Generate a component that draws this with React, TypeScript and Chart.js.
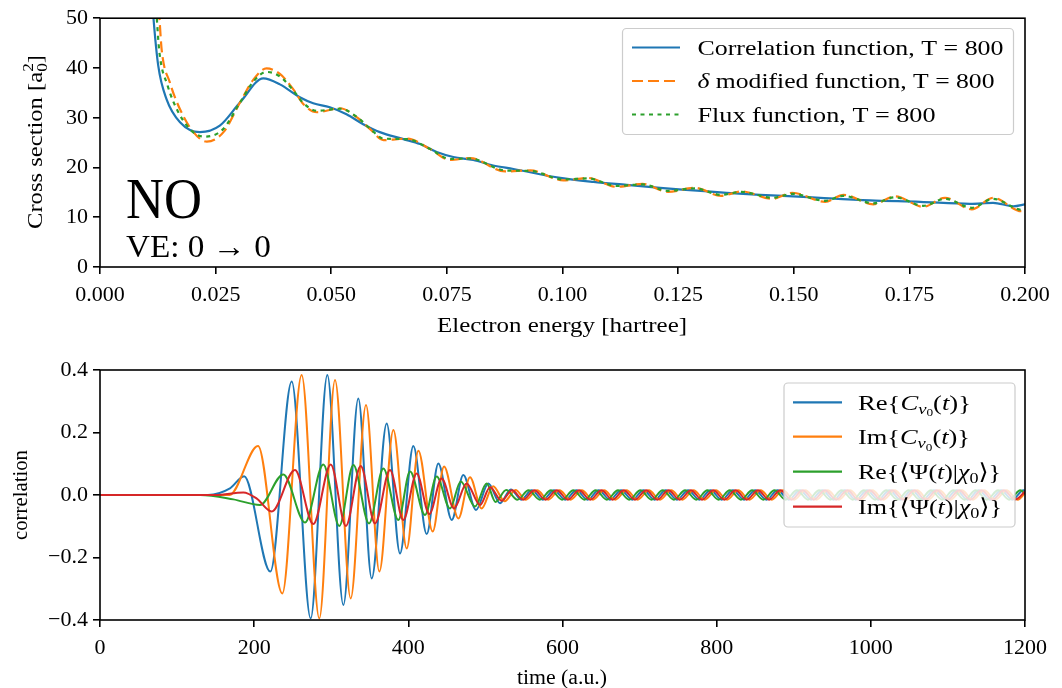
import React, { useEffect, useRef } from 'react';
import { Chart, registerables } from 'chart.js';
Chart.register(...registerables);

const FONT = "'Liberation Serif', 'DejaVu Serif', 'DejaVu Sans', serif";
const W = 1062;
const TOP_H = 345;
const BOT_H = 343;

// ---------- Top panel: cross section vs electron energy ----------
const energyTickStep = 0.025;
const crossTickStep = 10;

const corrE = [0.0112, 0.01153, 0.0126, 0.0144, 0.0173, 0.0216, 0.0259, 0.0303, 0.0353, 0.0389, 0.0432, 0.0461, 0.0497, 0.0533, 0.0569, 0.0605, 0.0656, 0.0692, 0.0728, 0.0764, 0.0807, 0.085, 0.0894, 0.0995, 0.1067, 0.1139, 0.1211, 0.1283, 0.1355, 0.1427, 0.1499, 0.1557, 0.1665, 0.1773, 0.1881, 0.1931, 0.1975, 0.2];
const corrV = [55, 50.4, 40.4, 33.7, 29.1, 27.1, 28.4, 33.1, 37.9, 36.7, 34.1, 32.9, 32.1, 30.7, 28.7, 27.1, 25.7, 24.7, 23.1, 22.1, 21.5, 20.4, 19.7, 17.9, 17.1, 16.5, 15.9, 15.4, 14.9, 14.5, 14.2, 13.9, 13.4, 13.1, 12.7, 12.9, 12.2, 12.6];

const deltaE = [0.0125, 0.01283, 0.01333, 0.0151, 0.0173, 0.0202, 0.0231, 0.0267, 0.0303, 0.0332, 0.036, 0.0389, 0.0418, 0.044, 0.0469, 0.0519, 0.0555, 0.0584, 0.0613, 0.0664, 0.0714, 0.0757, 0.08, 0.0876, 0.093, 0.1002, 0.1055, 0.1117, 0.1173, 0.1228, 0.1286, 0.1343, 0.1387, 0.1454, 0.1497, 0.1568, 0.1607, 0.1672, 0.1719, 0.178, 0.1827, 0.1885, 0.1931, 0.1993, 0.2];
const deltaV = [55, 50.4, 43.7, 37.1, 31.7, 27.1, 25.2, 27.1, 33.1, 37.7, 39.9, 38.8, 35.7, 32.7, 31.1, 31.9, 30.1, 27.7, 25.5, 25.8, 23.7, 21.5, 21.9, 19.2, 19.4, 17.4, 17.9, 16.1, 16.7, 15.1, 15.9, 14.3, 15.2, 13.7, 14.9, 13.1, 14.5, 12.6, 14.2, 12.1, 13.9, 11.6, 13.9, 11.2, 11.3];

const fluxE = [0.0119, 0.01225, 0.0128, 0.0146, 0.017, 0.02, 0.0225, 0.0265, 0.0303, 0.0332, 0.036, 0.0389, 0.0418, 0.044, 0.0469, 0.0519, 0.0555, 0.0584, 0.0613, 0.0664, 0.0714, 0.0757, 0.08, 0.0876, 0.093, 0.1002, 0.1055, 0.1117, 0.1173, 0.1228, 0.1286, 0.1343, 0.1387, 0.1454, 0.1497, 0.1568, 0.1607, 0.1672, 0.1719, 0.178, 0.1827, 0.1885, 0.1931, 0.1993, 0.2];
const fluxV = [55, 50.4, 43.5, 36.5, 31.0, 27.2, 26.2, 27.6, 33.1, 37.3, 39.2, 38.3, 35.5, 32.9, 31.4, 31.8, 30.2, 27.8, 25.8, 25.7, 23.7, 21.7, 21.8, 19.4, 19.3, 17.6, 17.8, 16.3, 16.6, 15.3, 15.8, 14.5, 15.1, 13.9, 14.7, 13.3, 14.3, 12.8, 14.0, 12.3, 13.7, 11.9, 13.7, 11.5, 11.6];

// ---------- Bottom panel: correlation vs time ----------
const reC: [number, number][] = [[0, 0], [140, 0], [168.6, 0.021], [187, 0.06], [221, -0.245], [248.7, 0.363], [273.3, -0.395], [294.9, 0.384], [315.7, -0.352], [335.1, 0.309], [352.5, -0.267], [371.9, 0.229], [389.2, -0.187], [406.5, 0.157], [423.8, -0.125], [438.9, 0.101], [456.3, -0.08], [471.3, 0.064], [487.8, -0.048], [503.8, 0.037], [519, -0.026], [533, 0.018], [546.5, -0.015],
  [560, 0.015], [574.5, -0.015], [589, 0.015], [603.5, -0.015], [618, 0.015], [632.5, -0.015], [647, 0.015], [661.5, -0.015], [676, 0.015], [690.5, -0.015], [705, 0.015], [719.5, -0.015], [734, 0.015], [748.5, -0.015], [763, 0.015], [777.5, -0.015], [792, 0.015], [806.5, -0.015], [821, 0.015], [835.5, -0.015], [850, 0.015], [864.5, -0.015], [879, 0.015], [893.5, -0.015], [908, 0.015], [922.5, -0.015], [937, 0.015], [951.5, -0.015], [966, 0.015], [980.5, -0.015], [995, 0.015], [1009.5, -0.015], [1024, 0.015], [1038.5, -0.015], [1053, 0.015], [1067.5, -0.015], [1082, 0.015], [1096.5, -0.015], [1111, 0.015], [1125.5, -0.015], [1140, 0.015], [1154.5, -0.015], [1169, 0.015], [1183.5, -0.015], [1198, 0.015], [1200, 0.014]];

const imC: [number, number][] = [[0, 0], [168, 0], [205, 0.157], [236.5, -0.315], [261.6, 0.384], [284.5, -0.395], [304.9, 0.368], [325.2, -0.331], [345.1, 0.288], [362.4, -0.245], [380.6, 0.208], [397.9, -0.171], [413, 0.142], [431.6, -0.117], [446.3, 0.091], [464.9, -0.075], [480, 0.057], [495, -0.043], [510, 0.028], [525, -0.02], [539, 0.016], [552.5, -0.015],
  [567, 0.015], [581.5, -0.015], [596, 0.015], [610.5, -0.015], [625, 0.015], [639.5, -0.015], [654, 0.015], [668.5, -0.015], [683, 0.015], [697.5, -0.015], [712, 0.015], [726.5, -0.015], [741, 0.015], [755.5, -0.015], [770, 0.015], [784.5, -0.015], [799, 0.015], [813.5, -0.015], [828, 0.015], [842.5, -0.015], [857, 0.015], [871.5, -0.015], [886, 0.015], [900.5, -0.015], [915, 0.015], [929.5, -0.015], [944, 0.015], [958.5, -0.015], [973, 0.015], [987.5, -0.015], [1002, 0.015], [1016.5, -0.015], [1031, 0.015], [1045.5, -0.015], [1060, 0.015], [1074.5, -0.015], [1089, 0.015], [1103.5, -0.015], [1118, 0.015], [1132.5, -0.015], [1147, 0.015], [1161.5, -0.015], [1176, 0.015], [1190.5, -0.015], [1200, 0.006]];

const rePsi: [number, number][] = [[0, 0], [130, 0], [173, -0.014], [207.6, -0.032], [237.8, 0.066], [266, -0.088], [289.7, 0.098], [310.5, -0.099], [328.7, 0.096], [349, -0.091], [367.6, 0.085], [387, -0.08], [402.2, 0.075], [421.6, -0.064], [436.8, 0.059], [454, -0.043], [468, 0.043], [486.5, -0.037], [501.6, 0.037], [513, -0.022], [527, 0.016], [541.5, -0.015],
  [556, 0.015], [570.5, -0.015], [585, 0.015], [599.5, -0.015], [614, 0.015], [628.5, -0.015], [643, 0.015], [657.5, -0.015], [672, 0.015], [686.5, -0.015], [701, 0.015], [715.5, -0.015], [730, 0.015], [744.5, -0.015], [759, 0.015], [773.5, -0.015], [788, 0.015], [802.5, -0.015], [817, 0.015], [831.5, -0.015], [846, 0.015], [860.5, -0.015], [875, 0.015], [889.5, -0.015], [904, 0.015], [918.5, -0.015], [933, 0.015], [947.5, -0.015], [962, 0.015], [976.5, -0.015], [991, 0.015], [1005.5, -0.015], [1020, 0.015], [1034.5, -0.015], [1049, 0.015], [1063.5, -0.015], [1078, 0.015], [1092.5, -0.015], [1107, 0.015], [1121.5, -0.015], [1136, 0.015], [1150.5, -0.015], [1165, 0.015], [1179.5, -0.015], [1194, 0.015], [1200, 0.004]];

const imPsi: [number, number][] = [[0, 0], [150, 0], [186, 0.008], [203, -0.011], [222.7, -0.053], [253, 0.08], [276.7, -0.093], [299.3, 0.098], [319, -0.099], [338.2, 0.093], [356.8, -0.091], [376.2, 0.08], [393.5, -0.08], [410.8, 0.069], [427.2, -0.061], [443.2, 0.053], [459.3, -0.043], [475.6, 0.037], [493, -0.032], [506, 0.025], [521, -0.018], [534.5, 0.015], [549, -0.015],
  [563.5, 0.015], [578, -0.015], [592.5, 0.015], [607, -0.015], [621.5, 0.015], [636, -0.015], [650.5, 0.015], [665, -0.015], [679.5, 0.015], [694, -0.015], [708.5, 0.015], [723, -0.015], [737.5, 0.015], [752, -0.015], [766.5, 0.015], [781, -0.015], [795.5, 0.015], [810, -0.015], [824.5, 0.015], [839, -0.015], [853.5, 0.015], [868, -0.015], [882.5, 0.015], [897, -0.015], [911.5, 0.015], [926, -0.015], [940.5, 0.015], [955, -0.015], [969.5, 0.015], [984, -0.015], [998.5, 0.015], [1013, -0.015], [1027.5, 0.015], [1042, -0.015], [1056.5, 0.015], [1071, -0.015], [1085.5, 0.015], [1100, -0.015], [1114.5, 0.015], [1129, -0.015], [1143.5, 0.015], [1158, -0.015], [1172.5, 0.015], [1187, -0.015], [1200, 0.011]];

const C_BLUE = '#1f77b4';
const C_ORANGE = '#ff7f0e';
const C_GREEN = '#2ca02c';
const C_RED = '#d62728';

// ---------- rich text helpers ----------
type Seg = { t: string; it?: boolean; sc?: number; dy?: number; sup?: string };

function segFont(s: Seg, size: number) {
  return `${s.it ? 'italic ' : ''}${size * (s.sc ?? 1)}px ${FONT}`;
}
function segWidth(ctx: CanvasRenderingContext2D, s: Seg, size: number) {
  ctx.font = segFont(s, size);
  let w = ctx.measureText(s.t).width;
  if (s.sup) w = Math.max(w, ctx.measureText(s.sup).width);
  return w;
}
function richWidth(ctx: CanvasRenderingContext2D, segs: Seg[], size: number) {
  return segs.reduce((a, s) => a + segWidth(ctx, s, size), 0);
}
// draws text starting at x; if fitW is given the text is stretched horizontally to that width
function drawRich(ctx: CanvasRenderingContext2D, segs: Seg[], x: number, y: number, size: number, fitW?: number) {
  ctx.save();
  ctx.textAlign = 'left';
  ctx.textBaseline = 'alphabetic';
  ctx.fillStyle = '#000';
  const nat = richWidth(ctx, segs, size);
  const sx = fitW ? fitW / nat : 1;
  ctx.translate(x, y);
  ctx.scale(sx, 1);
  let cx = 0;
  for (const s of segs) {
    ctx.font = segFont(s, size);
    ctx.fillText(s.t, cx, (s.dy ?? 0) * size);
    if (s.sup) ctx.fillText(s.sup, cx, -0.42 * size);
    cx += segWidth(ctx, s, size);
  }
  ctx.restore();
}

type LegendRow = { color: string; dash: number[]; segs: Seg[]; cy: number; w: number };
function drawLegend(ctx: CanvasRenderingContext2D, bx: number, by: number, bw: number, bh: number, rows: LegendRow[], hx0: number, hx1: number, tx: number, size: number) {
  ctx.save();
  ctx.beginPath();
  const r = 4;
  ctx.moveTo(bx + r, by);
  ctx.arcTo(bx + bw, by, bx + bw, by + bh, r);
  ctx.arcTo(bx + bw, by + bh, bx, by + bh, r);
  ctx.arcTo(bx, by + bh, bx, by, r);
  ctx.arcTo(bx, by, bx + bw, by, r);
  ctx.closePath();
  ctx.fillStyle = 'rgba(255,255,255,0.8)';
  ctx.fill();
  ctx.strokeStyle = '#cccccc';
  ctx.lineWidth = 1.2;
  ctx.stroke();
  for (const row of rows) {
    ctx.beginPath();
    ctx.setLineDash(row.dash);
    ctx.strokeStyle = row.color;
    ctx.lineWidth = 2.2;
    ctx.moveTo(hx0, row.cy);
    ctx.lineTo(hx1, row.cy);
    ctx.stroke();
    ctx.setLineDash([]);
    drawRich(ctx, row.segs, tx, row.cy + 0.34 * size, size, row.w);
  }
  ctx.restore();
}

function drawFrame(chart: any) {
  const { ctx, chartArea: a } = chart;
  ctx.save();
  ctx.strokeStyle = '#000';
  ctx.lineWidth = 1.6;
  ctx.strokeRect(a.left, a.top, a.right - a.left, a.bottom - a.top);
  ctx.restore();
}

function drawRotated(ctx: CanvasRenderingContext2D, segs: Seg[], cx: number, cy: number, size: number, fitW: number) {
  ctx.save();
  ctx.translate(cx, cy);
  ctx.rotate(-Math.PI / 2);
  drawRich(ctx, segs, -fitW / 2, 0.34 * size, size, fitW);
  ctx.restore();
}
function drawCentered(ctx: CanvasRenderingContext2D, segs: Seg[], cx: number, cy: number, size: number, fitW: number) {
  drawRich(ctx, segs, cx - fitW / 2, cy + 0.34 * size, size, fitW);
}

const TICK_FONT = { family: FONT, size: 22 };
const LABEL_SIZE = 22;
const BOT_LABEL_SIZE = 20;

function axisBase() {
  return {
    type: 'linear' as const,
    grid: { display: true, drawOnChartArea: false, drawTicks: true, tickLength: 7, color: '#000', lineWidth: 1.6 },
    border: { display: false },
  };
}

function topConfig(): any {
  const pts = (xs: number[], ys: number[]) => xs.map((x, i) => ({ x, y: ys[i] }));
  return {
    type: 'line',
    data: {
      datasets: [
        { label: 'Correlation function, T = 800', data: pts(corrE, corrV), borderColor: C_BLUE, borderWidth: 2.2, pointRadius: 0, cubicInterpolationMode: 'monotone', order: 3 },
        { label: 'delta modified function, T = 800', data: pts(deltaE, deltaV), borderColor: C_ORANGE, borderWidth: 2.2, borderDash: [11, 5], pointRadius: 0, cubicInterpolationMode: 'monotone', order: 2 },
        { label: 'Flux function, T = 800', data: pts(fluxE, fluxV), borderColor: C_GREEN, borderWidth: 2.2, borderDash: [4, 4.5], pointRadius: 0, cubicInterpolationMode: 'monotone', order: 1 },
      ],
    },
    options: {
      responsive: false,
      animation: false,
      events: [],
      devicePixelRatio: 1,
      layout: { padding: { left: 0, right: W - 1025, top: 17, bottom: 0 } },
      plugins: { legend: { display: false }, tooltip: { enabled: false } },
      scales: {
        x: {
          ...axisBase(), min: 0, max: 0.2,
          ticks: { stepSize: energyTickStep, color: '#000', font: TICK_FONT, autoSkip: false, maxRotation: 0, padding: 8, callback: (v: any) => Number(v).toFixed(3) },
          afterFit: (s: any) => { s.height = TOP_H - 267; },
        },
        y: {
          ...axisBase(), min: 0, max: 50,
          ticks: { stepSize: crossTickStep, color: '#000', font: TICK_FONT, padding: 5, callback: (v: any) => String(Math.round(Number(v))) },
          afterFit: (s: any) => { s.width = 100; },
        },
      },
    },
    plugins: [{
      id: 'topDecor',
      afterDraw(chart: any) {
        const ctx = chart.ctx as CanvasRenderingContext2D;
        drawFrame(chart);
        drawRich(ctx, [{ t: 'NO' }], 126, 218, 56, 76);
        drawRich(ctx, [{ t: 'VE: 0 \u2192 0' }], 126, 257, 31, 145);
        drawCentered(ctx, [{ t: 'Electron energy [hartree]' }], 562, 325, LABEL_SIZE, 250);
        drawRotated(ctx, [{ t: 'Cross section [a' }, { t: '0', sc: 0.7, dy: 0.2, sup: '2' }, { t: ']' }], 35, 142, LABEL_SIZE, 174);
        drawLegend(ctx, 622.5, 28.5, 391, 106, [
          { color: C_BLUE, dash: [], segs: [{ t: 'Correlation function, T = 800' }], cy: 47.5, w: 306 },
          { color: C_ORANGE, dash: [11, 5], segs: [{ t: '\u03b4', it: true }, { t: ' modified function, T = 800' }], cy: 81, w: 297 },
          { color: C_GREEN, dash: [4, 4.5], segs: [{ t: 'Flux function, T = 800' }], cy: 114.5, w: 238 },
        ], 632, 680, 697.5, LABEL_SIZE);
      },
    }],
  };
}

function botConfig(): any {
  const pts = (arr: [number, number][]) => arr.map(([x, y]) => ({ x, y }));
  const OFF = TOP_H;
  return {
    type: 'line',
    data: {
      datasets: [
        { label: 'Re C', data: pts(reC), borderColor: C_BLUE, borderWidth: 2, pointRadius: 0, cubicInterpolationMode: 'monotone', order: 4 },
        { label: 'Im C', data: pts(imC), borderColor: C_ORANGE, borderWidth: 2, pointRadius: 0, cubicInterpolationMode: 'monotone', order: 3 },
        { label: 'Re Psi', data: pts(rePsi), borderColor: C_GREEN, borderWidth: 2, pointRadius: 0, cubicInterpolationMode: 'monotone', order: 2 },
        { label: 'Im Psi', data: pts(imPsi), borderColor: C_RED, borderWidth: 2, pointRadius: 0, cubicInterpolationMode: 'monotone', order: 1 },
      ],
    },
    options: {
      responsive: false,
      animation: false,
      events: [],
      devicePixelRatio: 1,
      layout: { padding: { left: 0, right: W - 1025, top: 370 - OFF, bottom: 0 } },
      plugins: { legend: { display: false }, tooltip: { enabled: false } },
      scales: {
        x: {
          ...axisBase(), min: 0, max: 1200,
          ticks: { stepSize: 200, color: '#000', font: TICK_FONT, autoSkip: false, maxRotation: 0, padding: 8, callback: (v: any) => String(Math.round(Number(v))) },
          afterFit: (s: any) => { s.height = BOT_H - (620 - OFF); },
        },
        y: {
          ...axisBase(), min: -0.4, max: 0.4,
          ticks: { stepSize: 0.2, color: '#000', font: TICK_FONT, padding: 5, callback: (v: any) => { const n = Number(v); const a = Math.abs(n).toFixed(1); return n < -1e-9 ? '\u2212' + a : a; } },
          afterFit: (s: any) => { s.width = 100; },
        },
      },
    },
    plugins: [{
      id: 'botDecor',
      afterDraw(chart: any) {
        const ctx = chart.ctx as CanvasRenderingContext2D;
        drawFrame(chart);
        drawCentered(ctx, [{ t: 'time (a.u.)' }], 562, 677 - OFF, BOT_LABEL_SIZE, 90);
        drawRotated(ctx, [{ t: 'correlation' }], 20, 495 - OFF, BOT_LABEL_SIZE, 90);
        const cSegs = (p: string): Seg[] => [{ t: p + '{' }, { t: 'C', it: true }, { t: 'v', it: true, sc: 0.7, dy: 0.18 }, { t: '0', sc: 0.5, dy: 0.3 }, { t: '(' }, { t: 't', it: true }, { t: ')}' }];
        const pSegs = (p: string): Seg[] => [{ t: p + '{\u27e8\u03a8(' }, { t: 't', it: true }, { t: ')|' }, { t: '\u03c7', it: true }, { t: '0', sc: 0.7, dy: 0.18 }, { t: '\u27e9}' }];
        drawLegend(ctx, 784, 383 - OFF, 231, 144, [
          { color: C_BLUE, dash: [], segs: cSegs('Re'), cy: 402.3 - OFF, w: 113 },
          { color: C_ORANGE, dash: [], segs: cSegs('Im'), cy: 436.7 - OFF, w: 112 },
          { color: C_GREEN, dash: [], segs: pSegs('Re'), cy: 471.7 - OFF, w: 143 },
          { color: C_RED, dash: [], segs: pSegs('Im'), cy: 506.7 - OFF, w: 144 },
        ], 793, 842, 858, LABEL_SIZE);
      },
    }],
  };
}

export default function App() {
  const topRef = useRef<HTMLCanvasElement>(null);
  const botRef = useRef<HTMLCanvasElement>(null);
  useEffect(() => {
    const c1 = new Chart(topRef.current as HTMLCanvasElement, topConfig());
    const c2 = new Chart(botRef.current as HTMLCanvasElement, botConfig());
    return () => { c1.destroy(); c2.destroy(); };
  }, []);
  return (
    <div style={{ position: 'absolute', left: 0, top: 0, width: W, height: 688, background: '#fff' }}>
      <canvas ref={topRef} width={W} height={TOP_H} style={{ position: 'absolute', left: 0, top: 0, width: W, height: TOP_H }} />
      <canvas ref={botRef} width={W} height={BOT_H} style={{ position: 'absolute', left: 0, top: TOP_H, width: W, height: BOT_H }} />
    </div>
  );
}
